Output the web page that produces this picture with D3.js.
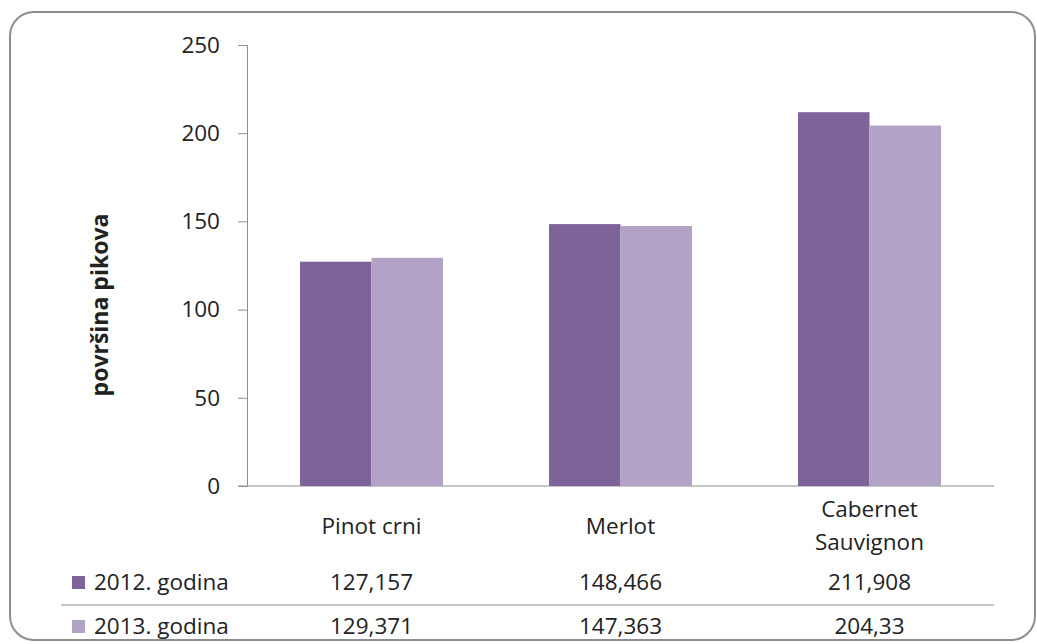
<!DOCTYPE html>
<html>
<head>
<meta charset="utf-8">
<script src="https://cdn.jsdelivr.net/npm/d3@7"></script>
<style>
  body { margin: 0; background: #fff; }
  text { font-family: "Open Sans", "Liberation Sans", sans-serif; fill: #222; }
</style>
</head>
<body>
<div id="chart"></div>
<script>
// Data
var categories = ["Pinot crni", "Merlot", "Cabernet Sauvignon"];
var categoryLines = [["Pinot crni"], ["Merlot"], ["Cabernet", "Sauvignon"]];
var seriesNames = ["2012. godina", "2013. godina"];
var values2012 = [127.157, 148.466, 211.908];
var values2013 = [129.371, 147.363, 204.33];
var tableLabels2012 = ["127,157", "148,466", "211,908"];
var tableLabels2013 = ["129,371", "147,363", "204,33"];
var yTicks = [0, 50, 100, 150, 200, 250];
var colors = ["#7d6399", "#b1a2c6"];

// Set svg dimensions
var svgWidth = 1037;
var svgHeight = 644;

// plot area
var margin = { top: 45, left: 247, right: 43, bottom: 158 };
var width = svgWidth - margin.left - margin.right;
var height = svgHeight - margin.top - margin.bottom;
var fontSize = "22.5px";

var svg = d3.select("#chart")
  .append("svg")
  .attr("width", svgWidth)
  .attr("height", svgHeight);

// rounded frame
svg.append("rect")
  .attr("x", 10)
  .attr("y", 12)
  .attr("width", 1025)
  .attr("height", 628)
  .attr("rx", 24)
  .attr("fill", "none")
  .attr("stroke", "#8e8e8e")
  .attr("stroke-width", 2);

var chartGroup = svg.append("g")
  .attr("transform", `translate(${margin.left}, ${margin.top})`);

var xScale = d3.scaleBand()
  .domain(categories)
  .range([0, width])
  .paddingInner(0.426)
  .paddingOuter(0.213);

var xSub = d3.scaleBand()
  .domain(seriesNames)
  .range([0, xScale.bandwidth()]);

var yScale = d3.scaleLinear()
  .domain([0, 250])
  .range([height, 0]);

// y axis
var leftAxis = d3.axisLeft(yScale)
  .tickValues(yTicks)
  .tickSize(9)
  .tickPadding(18);

var yAxis = chartGroup.append("g").call(leftAxis);
yAxis.select(".domain").attr("stroke", "#8e8e8e");
yAxis.selectAll(".tick line").attr("stroke", "#8e8e8e");
yAxis.selectAll(".tick text")
  .attr("font-size", fontSize)
  .attr("font-family", "'Open Sans', sans-serif")
  .attr("fill", "#222");

// x axis line (spans into the tick area like Excel)
chartGroup.append("line")
  .attr("x1", -9)
  .attr("x2", width)
  .attr("y1", height)
  .attr("y2", height)
  .attr("stroke", "#8e8e8e");

// bars
var rows = categories.map((c, i) => ({ cat: c, vals: [values2012[i], values2013[i]] }));

var groups = chartGroup.selectAll(".cat")
  .data(rows)
  .enter()
  .append("g")
  .attr("transform", d => `translate(${xScale(d.cat)}, 0)`);

groups.selectAll("rect")
  .data(d => d.vals.map((v, j) => ({ name: seriesNames[j], v: v, j: j })))
  .enter()
  .append("rect")
  .attr("x", d => xSub(d.name))
  .attr("y", d => yScale(d.v))
  .attr("width", xSub.bandwidth())
  .attr("height", d => height - yScale(d.v))
  .attr("fill", d => colors[d.j]);

// category labels
categoryLines.forEach(function(lines, i) {
  var cx = xScale(categories[i]) + xScale.bandwidth() / 2;
  var startY = lines.length === 1 ? height + 48 : height + 31;
  lines.forEach(function(line, k) {
    chartGroup.append("text")
      .attr("x", cx)
      .attr("y", startY + k * 33)
      .attr("text-anchor", "middle")
      .attr("font-size", fontSize)
      .text(line);
  });
});

// data table
var tableRows = [
  { name: seriesNames[0], labels: tableLabels2012, color: colors[0], y: height + 104 },
  { name: seriesNames[1], labels: tableLabels2013, color: colors[1], y: height + 148 }
];

tableRows.forEach(function(row) {
  chartGroup.append("rect")
    .attr("x", 72 - margin.left)
    .attr("y", row.y - 14)
    .attr("width", 13)
    .attr("height", 13)
    .attr("fill", row.color);
  chartGroup.append("text")
    .attr("x", 94 - margin.left)
    .attr("y", row.y)
    .attr("font-size", fontSize)
    .text(row.name);
  row.labels.forEach(function(lbl, i) {
    chartGroup.append("text")
      .attr("x", xScale(categories[i]) + xScale.bandwidth() / 2)
      .attr("y", row.y)
      .attr("text-anchor", "middle")
      .attr("font-size", fontSize)
      .text(lbl);
  });
});

// table separator lines
[height + 119, height + 163].forEach(function(ly) {
  chartGroup.append("line")
    .attr("x1", 61 - margin.left)
    .attr("x2", width)
    .attr("y1", ly)
    .attr("y2", ly)
    .attr("stroke", "#8e8e8e");
});

// y axis title
svg.append("text")
  .attr("transform", `translate(108, 305) rotate(-90)`)
  .attr("text-anchor", "middle")
  .attr("font-size", "23px")
  .attr("font-weight", "bold")
  .text("površina pikova");
</script>
</body>
</html>
